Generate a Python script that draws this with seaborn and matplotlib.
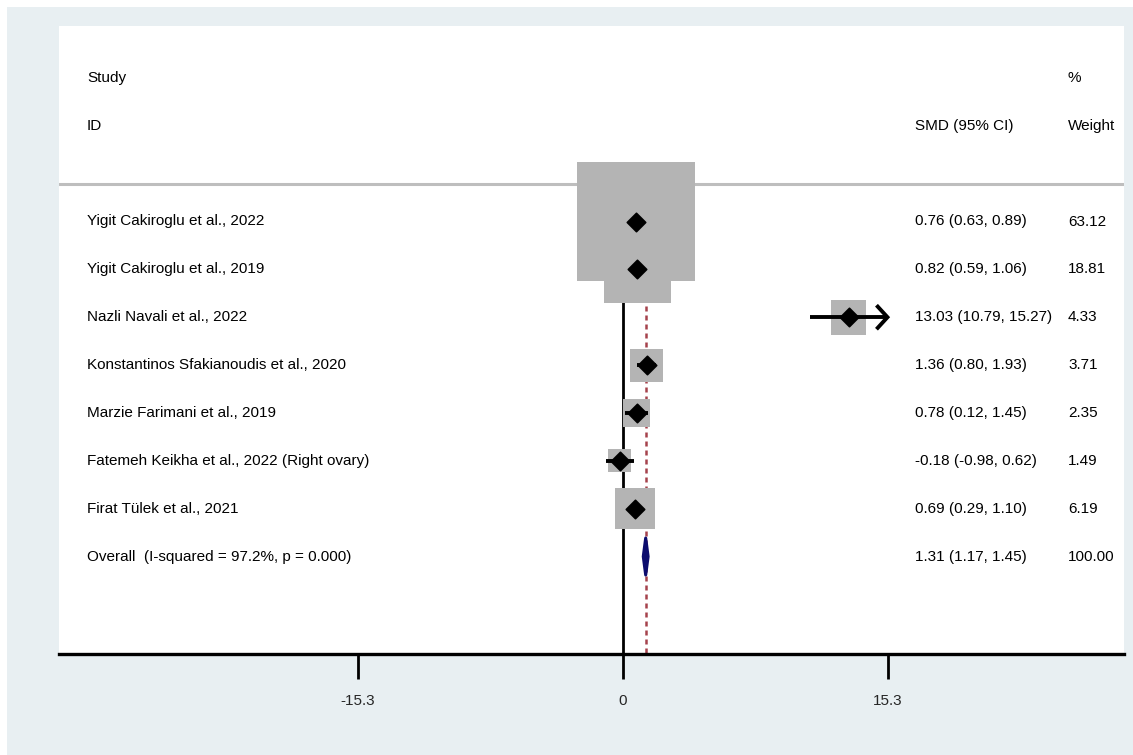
import numpy as np
import pandas as pd
import matplotlib
matplotlib.use("Agg")
import matplotlib.pyplot as plt
import matplotlib.transforms as mtransforms
from matplotlib.patches import Rectangle, Polygon
import seaborn as sns

# ---- data ----
studies = [
    "Yigit Cakiroglu et al., 2022",
    "Yigit Cakiroglu et al., 2019",
    "Nazli Navali et al., 2022",
    "Konstantinos Sfakianoudis et al., 2020",
    "Marzie Farimani et al., 2019",
    "Fatemeh Keikha et al., 2022 (Right ovary)",
    "Firat Tülek et al., 2021",
]
smd = [0.76, 0.82, 13.03, 1.36, 0.78, -0.18, 0.69]
ci_low = [0.63, 0.59, 10.79, 0.80, 0.12, -0.98, 0.29]
ci_high = [0.89, 1.06, 15.27, 1.93, 1.45, 0.62, 1.10]
weights = [63.12, 18.81, 4.33, 3.71, 2.35, 1.49, 6.19]

overall_smd = 1.31
overall_low = 1.17
overall_high = 1.45
overall_weight = 100.00
i_squared = 97.2
p_value = 0.000

tick_values = [-15.3, 0, 15.3]
tick_labels = ["-15.3", "0", "15.3"]

# ---- figure layout (pixel based) ----
W, H, DPI = 1133, 755, 100
BG = "#e8eff2"
sns.set_theme(style="white")
plt.rcParams["font.family"] = ["Liberation Sans", "DejaVu Sans"]
FS = 11

fig = plt.figure(figsize=(W / DPI, H / DPI), dpi=DPI, facecolor="white")
fig.patches.append(Rectangle((7 / W, 0), 1 - 7 / W, (H - 7) / H,
                             transform=fig.transFigure, facecolor=BG,
                             edgecolor="none", zorder=-5))

ax_l, ax_r, ax_t, ax_b = 59, 1124, 26, 654
ax = fig.add_axes([ax_l / W, (H - ax_b) / H, (ax_r - ax_l) / W, (ax_b - ax_t) / H])
ax.set_facecolor("white")

# horizontal scale: px per unit and position of zero
px_per_x = 17.32
x_zero_px = 623
x_min = (ax_l - x_zero_px) / px_per_x
x_max = (ax_r - x_zero_px) / px_per_x
# vertical scale: rows
row0_px = 221.5
px_per_row = 47.86
y_top = (ax_t - row0_px) / px_per_row
y_bot = (ax_b - row0_px) / px_per_row
ax.set_xlim(x_min, x_max)
ax.set_ylim(y_bot, y_top)

n = len(studies)
rows = np.arange(n)
overall_row = n

df = pd.DataFrame({"study": studies, "smd": smd, "lo": ci_low, "hi": ci_high,
                   "weight": weights, "row": rows})

# reference lines: no effect and overall effect
ax.plot([0, 0], [-0.5, y_bot], color="black", lw=2.0, zorder=1, solid_capstyle="butt")
ax.plot([overall_smd, overall_smd], [-0.5, y_bot], color="#a5424c", lw=1.8,
        linestyle=(0, (2.0, 1.6)), zorder=1)

# header separator
ax.axhline((184 - row0_px) / px_per_row, color="#bebebe", lw=2.2, zorder=1)

# weight boxes (area scaled by weight)
for _, r in df.iterrows():
    side_px = 5.6 + 14.15 * np.sqrt(r["weight"])
    bw = side_px / px_per_x
    bh = side_px / px_per_row
    ax.add_patch(Rectangle((r["smd"] - bw / 2, r["row"] - bh / 2), bw, bh,
                           facecolor="#b4b4b4", edgecolor="none", zorder=2))

# confidence intervals
x_clip = tick_values[-1]
for _, r in df.iterrows():
    ax.plot([r["lo"], min(r["hi"], x_clip)], [r["row"], r["row"]],
            color="black", lw=2.8, zorder=3, solid_capstyle="butt")
    if r["hi"] >= x_clip * 0.99:
        dx = 11 / px_per_x
        dy = 12 / px_per_row
        xe = min(r["hi"], x_clip)
        ax.plot([xe - dx, xe, xe - dx], [r["row"] - dy, r["row"], r["row"] + dy],
                color="black", lw=2.8, zorder=3, solid_joinstyle="miter",
                solid_capstyle="butt")

# point estimates
sns.scatterplot(data=df, x="smd", y="row", marker="D", s=88, color="black",
                edgecolor="black", linewidth=1.2, legend=False, ax=ax, zorder=4)

# pooled estimate diamond
dh = 18.5 / px_per_row
ax.add_patch(Polygon([(overall_low, overall_row), (overall_smd, overall_row - dh),
                      (overall_high, overall_row), (overall_smd, overall_row + dh)],
                     closed=True, facecolor="#0c0c6e", edgecolor="#0c0c6e",
                     lw=2.2, joinstyle="round", zorder=4))

# text columns
tr = mtransforms.blended_transform_factory(ax.transAxes, ax.transData)
x_name = (87 - ax_l) / (ax_r - ax_l)
x_eff = (915 - ax_l) / (ax_r - ax_l)
x_wt = (1068 - ax_l) / (ax_r - ax_l)

txt = dict(transform=tr, fontsize=FS, va="center", ha="left", color="black")
ax.text(x_name, -3, "Study", **txt)
ax.text(x_name, -2, "ID", **txt)
ax.text(x_wt, -3, "%", **txt)
ax.text(x_eff, -2, "SMD (95% CI)", **txt)
ax.text(x_wt, -2, "Weight", **txt)

for _, r in df.iterrows():
    ax.text(x_name, r["row"], r["study"], **txt)
    ax.text(x_eff, r["row"], f"{r['smd']:.2f} ({r['lo']:.2f}, {r['hi']:.2f})", **txt)
    ax.text(x_wt, r["row"], f"{r['weight']:.2f}", **txt)

ax.text(x_name, overall_row, f"Overall  (I-squared = {i_squared:.1f}%, p = {p_value:.3f})", **txt)
ax.text(x_eff, overall_row, f"{overall_smd:.2f} ({overall_low:.2f}, {overall_high:.2f})", **txt)
ax.text(x_wt, overall_row, f"{overall_weight:.2f}", **txt)

# axes styling
for side in ["top", "left", "right"]:
    ax.spines[side].set_visible(False)
ax.spines["bottom"].set_color("black")
ax.spines["bottom"].set_linewidth(2.4)
ax.set_yticks([])
ax.set_xticks(tick_values)
ax.set_xticklabels(tick_labels, fontsize=FS)
ax.tick_params(axis="x", direction="out", length=18, width=2.0, color="black",
               pad=11, bottom=True)
ax.set_xlabel("")
ax.set_ylabel("")

fig.savefig("out.png", dpi=DPI, facecolor=fig.get_facecolor())
